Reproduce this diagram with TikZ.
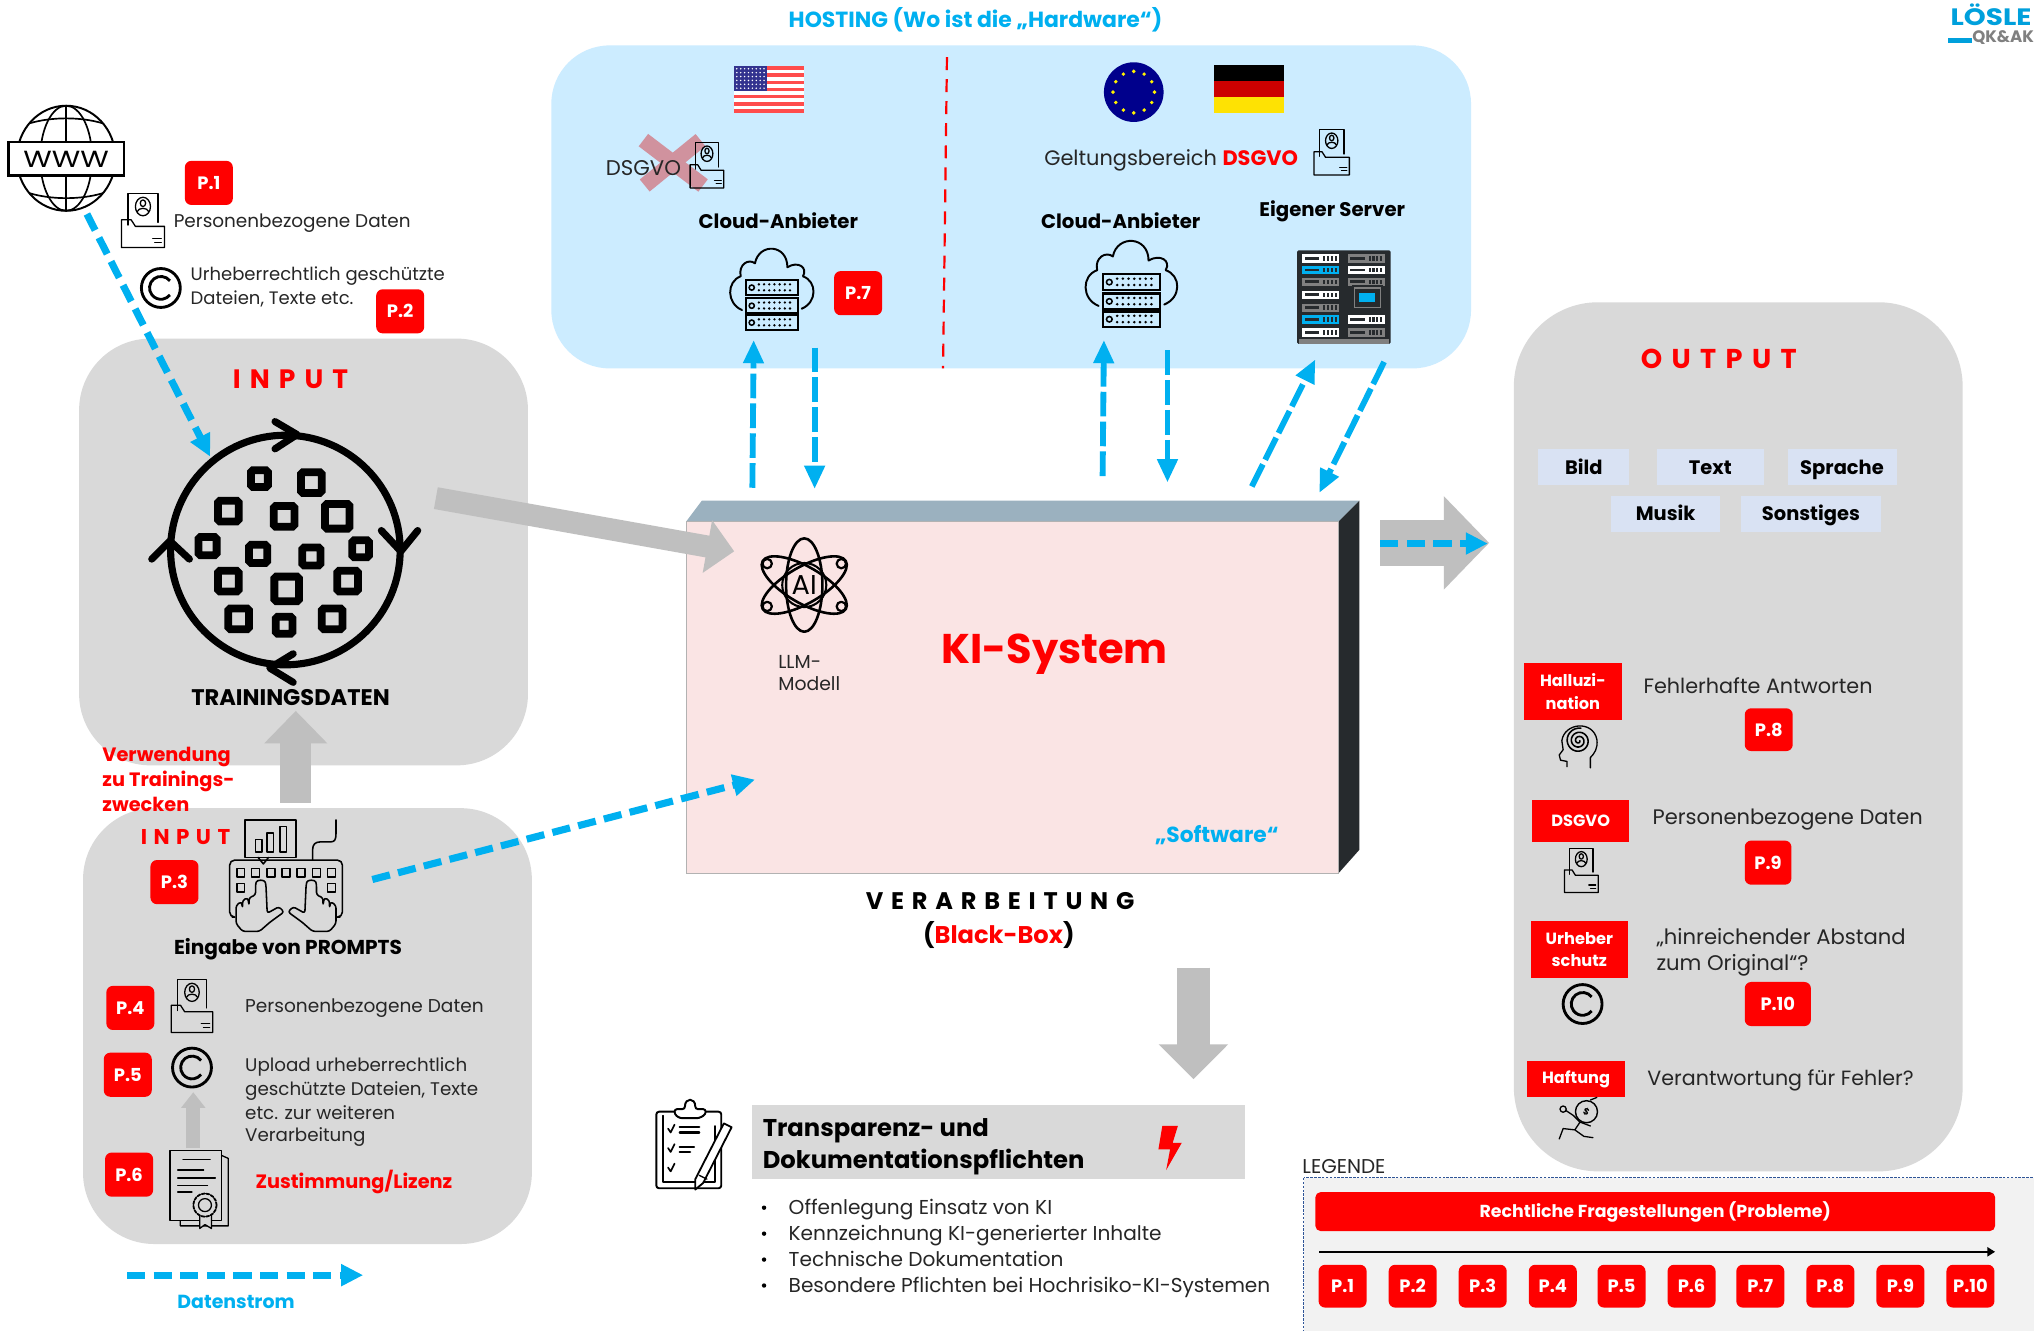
\documentclass[tikz,border=0pt]{standalone}
\usepackage{fontspec}
\setmainfont{Poppins}
\usetikzlibrary{arrows.meta,calc}
\definecolor{cyanA}{RGB}{0,176,240}
\definecolor{redA}{RGB}{255,0,0}
\definecolor{greyBox}{RGB}{217,217,217}
\definecolor{greyArrow}{RGB}{191,191,191}
\definecolor{blueBox}{RGB}{204,236,255}
\definecolor{pinkBox}{RGB}{250,228,228}
\definecolor{topFace}{RGB}{155,177,191}
\definecolor{sideFace}{RGB}{38,42,45}
\definecolor{tagBox}{RGB}{217,226,243}
\definecolor{legendBox}{RGB}{242,242,242}
\definecolor{legendLine}{RGB}{47,85,151}
\definecolor{ink}{RGB}{38,38,38}
\definecolor{logoBlue}{RGB}{0,160,220}
\newcommand{\fsz}[1]{\fontsize{#1}{#1}\selectfont}
\tikzset{
  x=1pt,y=-1pt,
  every node/.style={inner sep=0pt,outer sep=0pt,text=ink},
  fixedline/.style={text height=15pt,text depth=4pt},
  pbadge/.style={fill=redA,rounded corners=5pt,minimum width=37pt,minimum height=34pt,text=white,font=\fsz{13.8}\bfseries},
  tagbadge/.style={fill=redA,minimum width=75pt,text=white,align=center,font=\fsz{12.5}\bfseries},
  kindbox/.style={fill=tagBox,minimum height=28pt,text=black,fixedline,font=\fsz{15}\bfseries},
  body/.style={anchor=west,align=left,fixedline,font=\fsz{16}},
  heading/.style={text=black,fixedline,font=\fsz{15.2}\bfseries},
  spaced/.style={text=redA,font=\fsz{18}\bfseries},
  flow/.style={draw=cyanA,line width=5.5pt,dash pattern=on 14pt off 6.5pt,-{Triangle[length=17pt,width=16pt,fill=cyanA]}},
  flowthin/.style={draw=cyanA,line width=4.5pt,dash pattern=on 19pt off 4pt,-{Triangle[length=18pt,width=15pt,fill=cyanA]}},
  bulkflow/.style={draw=greyArrow,line width=#1},
  iconline/.style={draw=black,line width=1pt,line join=round,line cap=round},
  foldericon/.pic={
    \draw[iconline,fill=none] (6,24) -- (6,0) -- (34,0) -- (34,22);
    \draw[iconline] (20,10) circle (7);
    \draw[iconline] (20,7.5) circle (2.5);
    \draw[iconline] (14.5,14) .. controls (16,10.5) and (24,10.5) .. (25.5,14);
    \draw[iconline] (0,20) -- (9,20) -- (13,25) -- (40,25) -- (40,41) -- (0,41) -- cycle;
    \draw[iconline] (29,34) -- (37,34) (31,37) -- (37,37);
  },
  copyicon/.pic={
    \draw[draw=black,line width=2.2pt] (0,0) circle (15);
    \draw[draw=black,line width=2.2pt] (7,-5.5) arc[start angle=-38,end angle=-322,radius=8.8];
  },
  cloudicon/.pic={
    \draw[iconline,line width=1.5pt] (9,47) .. controls (-3,42) and (-3,25) .. (8,21) .. controls (6,12) and (14,7) .. (19,11) .. controls (22,-5) and (44,-4) .. (44,14) .. controls (52,9) and (60,14) .. (56,21) .. controls (67,25) and (67,41) .. (55,46);
    \foreach \yy in {24,38,51}{
      \draw[draw=black,fill=blueBox,line width=1.7pt] (12,\yy) rectangle (52,\yy+11.5);
      \draw[draw=black,line width=1.2pt] (16.5,\yy+5.7) circle (2);
      \foreach \xx in {22,26,30,34,38,42,46}{
        \fill[black] (\xx,\yy+3.2) circle (1);
        \fill[black] (\xx,\yy+7.8) circle (1);
      }
    }
  },
  rackicon/.pic={
    \fill[sideFace,rounded corners=1pt] (0,0) rectangle (72,72);
    \fill[gray] (1,68) rectangle (71,72);
    \foreach \yy/\col in {3/white,12/cyanA,21/gray,31/white,41/gray,50/cyanA,60/white}{
      \fill[\col] (4,\yy) rectangle (32,\yy+6.5);
      \foreach \xx in {16,19,22,25}{\fill[sideFace] (4+\xx,\yy+1.5) rectangle (4+\xx+1.6,\yy+5);}
      \fill[sideFace] (6,\yy+2.2) rectangle (17,\yy+4.2);
    }
    \foreach \yy/\col in {3/gray,12/white,21/gray,50/white,60/gray}{
      \fill[\col] (39,\yy) rectangle (68,\yy+6.5);
      \foreach \xx in {16,19,22,25}{\fill[sideFace] (39+\xx,\yy+1.5) rectangle (39+\xx+1.6,\yy+5);}
      \fill[sideFace] (41,\yy+2.2) rectangle (52,\yy+4.2);
    }
    \fill[sideFace] (42,27) rectangle (66,46);
    \draw[gray,line width=1pt] (44,29) rectangle (64,44);
    \fill[cyanA] (48,33) rectangle (60,40);
  },
  keyboardicon/.pic={
    \draw[iconline,line width=1.2pt] (12,0) rectangle (51,29);
    \draw[iconline,line width=1.2pt] (22,29) -- (26,34) -- (30,29);
    \foreach \xa/\ya in {20/15,29/10,39/5}{\draw[iconline,line width=1.2pt] (\xa,\ya) rectangle (\xa+5,25);}
    \draw[iconline,line width=1.2pt] (64,31) -- (64,23) .. controls (64,19) and (66,17) .. (70,17) -- (78,17) .. controls (81,17) and (82,15) .. (82,11) -- (82,0);
    \draw[iconline,line width=1.2pt,rounded corners=4pt] (2,75) -- (0,75) -- (0,31) -- (87,31) -- (87,75) -- (85,75);
    \foreach \xa in {8.5,20,32,43.5,55,67,78.5}{\draw[iconline,line width=1.2pt] (\xa-3,37.5) rectangle (\xa+3,44);}
    \foreach \xa in {8.5,78.5}{\draw[iconline,line width=1.2pt] (\xa-3,49) rectangle (\xa+3,55.5);}
    \foreach \ss/\oo in {1/0,-1/87}{
      \begin{scope}[xshift=\oo pt,xscale=\ss]
        \draw[iconline,fill=greyBox,line width=1.2pt,rounded corners=2pt] (5,80) -- (5,66) -- (9,63) -- (10,68) -- (10,62) -- (14,60) -- (15,66) -- (15,60) -- (20,58) -- (20,50) .. controls (21,46) and (27,46) .. (28,50) -- (29,72) -- (38,67) -- (42,71) -- (31,79) -- (23,86) -- (10,86) -- cycle;
      \end{scope}
    }
  },
  certicon/.pic={
    \draw[iconline] (36,2) -- (45,6) -- (45,58) -- (8,58) -- (8,54);
    \draw[iconline,fill=greyBox] (0,0) rectangle (40,54);
    \draw[iconline] (10,7) -- (31,7) (6,15) -- (26,15) (6,21) -- (35,21) (6,27) -- (29,27) (6,32) -- (17,32);
    \draw[iconline,fill=greyBox] (23,47) -- (23,60) -- (27,57) -- (32,60) -- (32,47);
    \draw[iconline,fill=greyBox,line width=1.4pt,dash pattern=on 2.4pt off 1.2pt] (27,42) circle (9);
    \draw[iconline,fill=greyBox] (27,42) circle (5);
  },
  aticon/.pic={
    \draw[iconline,line width=2pt] (0,0) ellipse (14 and 36);
    \draw[iconline,line width=2pt,rotate=60] (0,0) ellipse (14 and 37);
    \draw[iconline,line width=2pt,rotate=-60] (0,0) ellipse (14 and 37);
    \foreach \aa in {30,150,210,330}{\draw[iconline,fill=pinkBox,line width=1.7pt] (\aa:33) circle (3.6);}
    \draw[iconline,line width=1.6pt] (0,0) circle (17);
  },
  headicon/.pic={
    \draw[iconline] (-8,16) -- (-8,12) -- (-13,11) -- (-14,7) -- (-11,3) -- (-12,-4) .. controls (-10,-18) and (12,-20) .. (15,-5) .. controls (16,2) and (13,6) .. (10,9) -- (10,17);
    \draw[iconline,line width=1.2pt,domain=0:1000,samples=70,smooth] plot ({(.8+\x/1000*9)*cos(\x)+1},{(.8+\x/1000*9)*sin(\x)-4});
  },
  haftungicon/.pic={
    \draw[iconline,line width=1.1pt,fill=greyBox] (6,-7) circle (8.5);
    \draw[iconline] (-4,-4) -- (1,1) -- (-3,7) -- (-12,6) -- (-15,14) (-3,7) -- (4,12) -- (11,13) (1,1) -- (9,4) (-4,-4) -- (-10,-8) (9,-16) -- (14,-18);
    \draw[iconline] (-12,-9) circle (2.4);
    \node[font=\fsz{7}\bfseries,text=black,rotate=-25] at (6,-7) {\$};
  },
  clipicon/.pic={
    \draw[iconline,line width=1.5pt,rounded corners=2pt] (0,9) rectangle (50,68);
    \draw[iconline,line width=1.2pt] (5,12) -- (5,63) -- (45,63) -- (45,20);
    \draw[iconline,line width=1.5pt,fill=white,rounded corners=2pt] (14,11) -- (14,7) -- (22,7) .. controls (22,-2) and (30,-2) .. (30,7) -- (38,7) -- (38,11) -- (33,14) -- (18,14) -- cycle;
    \foreach \yy in {22,37,52}{\draw[iconline,line width=1.3pt] (9,\yy) -- (11,\yy+3) -- (14,\yy-3);}
    \draw[iconline,line width=1.8pt] (18,21) -- (33,21) (18,25) -- (33,25) (18,36) -- (29,36) (18,40) -- (26,40);
    \draw[iconline,fill=white,line width=1.4pt] (52,18) -- (58,21) -- (36,64) -- (30,69) -- (30,61) -- cycle;
    \draw[iconline,line width=1pt] (33,58) -- (39,61);
  },
}
\begin{document}
\begin{tikzpicture}
\useasboundingbox (0,0) rectangle (1568,1025.3);
\fill[white] (0,0) rectangle (1568,1025.3);

% ---------- panels ----------
\fill[blueBox,rounded corners=45pt] (425,35) rectangle (1134,284);
\fill[greyBox,rounded corners=55pt] (61,261) rectangle (407,590);
\fill[greyBox,rounded corners=55pt] (64,623) rectangle (410,959);
\fill[greyBox,rounded corners=65pt] (1167,233) rectangle (1513,903);

% ---------- logo ----------
\node[text=logoBlue,font=\fsz{21.5}\bfseries,anchor=base east] (logoA) at (1566,19.5) {\scalebox{1}[.85]{LÖSLE}};
\node[text=gray,font=\fsz{12.8}\bfseries,anchor=base east] (logoB) at (1568,33) {QK\&AK};
\fill[logoBlue] (1502,29) rectangle (1520,33);

% ---------- hosting ----------
\node[text=cyanA,font=\fsz{16.9}\bfseries] (hosting) at (752,15) {HOSTING (Wo ist die „Hardware“)};
\coordinate (divA) at (730,44); \coordinate (divB) at (727,284);
\draw[redA,line width=1.7pt,dash pattern=on 10pt off 7pt] (divA) -- (divB);

% US flag
\fill[white] (566,51) rectangle (620,87);
\foreach \k in {0,2,...,12}{\fill[red!70!white] (566,51+\k*2.77) rectangle (620,51+\k*2.77+2.77);}
\fill[blue!45!black!80!white] (566,51) rectangle (591,70.5);
\foreach \i in {0,...,7}{\foreach \j in {0,...,5}{\fill[white] (568+\i*3,53+\j*3) circle (.65);}}
% EU flag
\fill[blue!55!black] (874,71) circle (23);
\foreach \a in {0,30,...,330}{\fill[yellow] ($(874,71)+(\a:16)$) circle (1.5);}
% German flag
\fill[black] (936,50) rectangle (990,62.5);
\fill[red!80!black] (936,62.5) rectangle (990,75);
\fill[yellow!85!orange] (936,75) rectangle (990,87);

% left: no DSGVO
\draw[red!85!black,opacity=.38,line width=12pt] (496,108) -- (542,143) (540,108) -- (497,143);
\node[body,font=\fsz{16.4}] (dsgvoUS) at (467,130) {DSGVO};
\pic[xscale=.65,yscale=.85] at (532,110) {foldericon};
\node[heading] (cloudUS) at (600,171) {Cloud-Anbieter};
\pic at (563,192) {cloudicon};
\node[pbadge] (p7) at (661.5,226) {P.7};
\node[body,font=\fsz{16.1}] (geltung) at (805,122) {Geltungsbereich \textcolor{redA}{\bfseries DSGVO}};
\pic[xscale=.68,yscale=.85] at (1013,100) {foldericon};
\node[heading] (cloudEU) at (864,171) {Cloud-Anbieter};
\pic[xscale=1.1,yscale=1.06] at (837,186) {cloudicon};
\node[heading] (ownServer) at (1027,161.5) {Eigener Server};
\pic at (1000,193) {rackicon};

% ---------- input 1 ----------
\coordinate (globeC) at (51,122);
\draw[black,line width=1.5pt] (globeC) ellipse (38 and 40.5);
\draw[black,line width=1.3pt] (globeC) ellipse (20 and 40.5);
\draw[black,line width=1.3pt] (51,81.5) -- (51,162.5);
\draw[black,line width=1.3pt] (23,95) .. controls (40,90) and (62,90) .. (79,95);
\draw[black,line width=1.3pt] (23,149) .. controls (40,154) and (62,154) .. (79,149);
\node[draw=black,fill=white,line width=2pt,minimum width=89pt,minimum height=26pt,text=black,font=\fsz{18}] (www) at (51,122.5) {\scalebox{1.25}[1]{WWW}};
\pic[xscale=.83,yscale=1.02] at (93.6,149) {foldericon};
\node[pbadge] (p1) at (161,141) {P.1};
\node[body,font=\fsz{14.2}] (pd1) at (134,170) {Personenbezogene Daten};
\pic at (124,222) {copyicon};
\node[anchor=west,align=left,font=\fsz{13.9}] (ur1) at (147,221) {Urheberrechtlich geschützte\\[3pt]Dateien, Texte etc.};
\node[pbadge] (p2) at (308.5,240) {P.2};

\node[spaced,font=\fsz{20.5}\bfseries] (inA) at (224,292) {I\hspace{7pt}N\hspace{7pt}P\hspace{7pt}U\hspace{7pt}T};

% training data circle
\coordinate (trainC) at (220,424);
\draw[black,line width=5.5pt] (trainC) circle (88.5);
\draw[black,line width=5.5pt,line cap=round,line join=round] (212,325) -- (229,335) -- (212,346);
\draw[black,line width=5.5pt,line cap=round,line join=round] (294,409) -- (309,425) -- (322,409);
\draw[black,line width=5.5pt,line cap=round,line join=round] (226,504) -- (208,515) -- (226,526);
\draw[black,line width=5.5pt,line cap=round,line join=round] (117,431) -- (131,417) -- (146,431);
\foreach \cx/\cy/\sz in {200/369/13,240/372/16,176/394/16,219/398/16,260/398/19,160/421/14,199/427/14,240/429/14,278/423/13,176/448/16,221/454/19,268/448/16,184/477/16,219/482/13,256/477/16}{
  \draw[black,line width=6pt,rounded corners=1.5pt] (\cx-\sz/2,\cy-\sz/2) rectangle (\cx+\sz/2,\cy+\sz/2);
}
\node[text=black,fixedline,font=\fsz{17.4}\bfseries] (train) at (224,538.5) {TRAININGSDATEN};

% ---------- bulk arrows ----------
\coordinate (upA) at (228,619); \coordinate (upB) at (228,548);
\draw[bulkflow=24pt,-{Triangle[length=25pt,width=47pt,fill=greyArrow]}] (upA) -- (upB);

\node[anchor=north west,align=left,text=redA,font=\fsz{14.9}\bfseries] (verw) at (79,576) {Verwendung\\[2.6pt]zu Trainings-\\[2.6pt]zwecken};

% ---------- input 2 ----------
\node[spaced,font=\fsz{16.5}\bfseries] (inB) at (143,645) {I\hspace{5pt}N\hspace{5pt}P\hspace{5pt}U\hspace{5pt}T};
\node[pbadge] (p3) at (134.5,680) {P.3};
\pic at (177,632) {keyboardicon};
\node[text=black,fixedline,font=\fsz{15.5}\bfseries] (prompts) at (222,730) {Eingabe von PROMPTS};
\node[pbadge] (p4) at (100.5,777) {P.4};
\pic[xscale=.8,yscale=1] at (132,755) {foldericon};
\node[body,font=\fsz{14.3}] (pd2) at (189,775) {Personenbezogene Daten};
\node[pbadge] (p5) at (98.5,828.5) {P.5};
\pic at (148,823) {copyicon};
\coordinate (licA) at (149,885); \coordinate (licB) at (149,842);
\draw[bulkflow=11pt,-{Triangle[length=12pt,width=18pt,fill=greyArrow]}] (licA) -- (licB);
\node[anchor=north west,align=left,font=\fsz{14.1}] (upl) at (189,815.5) {Upload urheberrechtlich\\[2.9pt]geschützte Dateien, Texte\\[2.9pt]etc. zur weiteren\\[2.9pt]Verarbeitung};
\node[pbadge] (p6) at (99.5,905.5) {P.6};
\pic at (131,887) {certicon};
\node[anchor=west,text=redA,fixedline,font=\fsz{14.9}\bfseries] (lic) at (197,910.5) {Zustimmung/Lizenz};

\coordinate (legA) at (98,983); \coordinate (legB) at (280,983);
\draw[flow] (legA) -- (legB);
\node[text=cyanA,fixedline,font=\fsz{14.6}\bfseries] (dstrom) at (182,1003) {Datenstrom};

% ---------- KI box ----------
\fill[topFace] (529,402) -- (541,386) -- (1048,386) -- (1032,402) -- cycle;
\fill[sideFace] (1032,402) -- (1048,386) -- (1048,655) -- (1032,673) -- cycle;
\draw[gray!60,fill=pinkBox,line width=.8pt] (529,402) rectangle (1032,673);
\pic at (620,451) {aticon};
\node[text=black,font=\fsz{21}] (ai) at (620,451) {AI};
\node[anchor=north west,align=left,font=\fsz{14.5}] (llm) at (600,505) {LLM-\\[2.5pt]Modell};
\node[text=redA,font=\fsz{32}\bfseries] (ki) at (813,504) {KI-System};
\node[text=cyanA,font=\fsz{16.8}\bfseries] (soft) at (938,644) {„Software“};
\node[text=black,font=\fsz{18.5}\bfseries] (verarb) at (771,695) {V\hspace{6pt}E\hspace{6pt}R\hspace{6pt}A\hspace{6pt}R\hspace{6pt}B\hspace{6pt}E\hspace{6pt}I\hspace{6pt}T\hspace{6pt}U\hspace{6pt}N\hspace{6pt}G};
\node[text=black,font=\fsz{18.6}\bfseries] (bb) at (770,721) {(\textcolor{redA}{Black-Box})};

% grey and data arrows
\coordinate (trainOut) at (336,384); \coordinate (kiIn) at (566,425);
\draw[bulkflow=17pt,-{Triangle[length=21pt,width=40pt,fill=greyArrow]}] (trainOut) -- (kiIn);
\coordinate (kiOut) at (1064,418.5); \coordinate (outIn) at (1148,418.5);
\draw[bulkflow=35pt,-{Triangle[length=35pt,width=70pt,fill=greyArrow]}] (kiOut) -- (outIn);
\coordinate (kiDown) at (920,746); \coordinate (pflicht) at (920,832);
\draw[bulkflow=26pt,-{Triangle[length=27pt,width=52pt,fill=greyArrow]}] (kiDown) -- (pflicht);

\coordinate (wwwOut) at (67,165); \coordinate (trainIn) at (162,352);
\draw[flow] (wwwOut) -- (trainIn);
\coordinate (promptOut) at (287,678); \coordinate (kiPrompt) at (582,601);
\draw[flow] (promptOut) -- (kiPrompt);
\coordinate (flowA) at (1064,419); \coordinate (flowB) at (1147,419);
\draw[flow] (flowA) -- (flowB);
\coordinate (h1a) at (580,376); \coordinate (h1b) at (581,262);
\draw[flowthin] (h1a) -- (h1b);
\coordinate (h2a) at (628,268); \coordinate (h2b) at (628,377);
\draw[flowthin] (h2a) -- (h2b);
\coordinate (h3a) at (850,367); \coordinate (h3b) at (851,262);
\draw[flowthin] (h3a) -- (h3b);
\coordinate (h4a) at (900,270); \coordinate (h4b) at (900,372);
\draw[flowthin] (h4a) -- (h4b);
\coordinate (h5a) at (965,375); \coordinate (h5b) at (1014,277);
\draw[flowthin] (h5a) -- (h5b);
\coordinate (h6a) at (1067,279); \coordinate (h6b) at (1017,380);
\draw[flowthin] (h6a) -- (h6b);

% ---------- output ----------
\node[spaced,font=\fsz{21}\bfseries] (outT) at (1325,277) {O\hspace{7.2pt}U\hspace{7.2pt}T\hspace{7.2pt}P\hspace{7.2pt}U\hspace{7.2pt}T};
\node[kindbox,minimum width=70pt] (kb) at (1221,360) {Bild};
\node[kindbox,minimum width=83pt] (kt) at (1318.5,360) {Text};
\node[kindbox,minimum width=84pt] (ks) at (1420,360) {Sprache};
\node[kindbox,minimum width=84pt] (km) at (1284,396) {Musik};
\node[kindbox,minimum width=108pt] (kso) at (1396,396) {Sonstiges};

\node[tagbadge,minimum height=44pt] (tagH) at (1212.5,533) {Halluzi-\\[5pt]nation};
\pic at (1216,575) {headicon};
\node[body] (rH) at (1267,529) {Fehlerhafte Antworten};
\node[pbadge,minimum height=33pt] (p8) at (1363.5,562.5) {P.8};

\node[tagbadge,minimum height=32pt] (tagD) at (1218.5,633) {\raisebox{-1pt}{DSGVO}};
\pic[xscale=.65,yscale=.83] at (1206,654) {foldericon};
\node[body,font=\fsz{16.2}] (rD) at (1274,630) {Personenbezogene Daten};
\node[pbadge,minimum width=36pt] (p9) at (1363,665) {P.9};

\node[tagbadge,minimum height=44pt] (tagU) at (1217.5,732) {Urheber\\[4.5pt]schutz};
\pic at (1220,774) {copyicon};
\node[anchor=north west,align=left,font=\fsz{16.3}] (rU) at (1277,716) {„hinreichender Abstand\\[3.7pt]zum Original“?};
\node[pbadge,minimum width=51pt] (p10) at (1370.5,774) {P.10};

\node[tagbadge,minimum height=28pt] (tagF) at (1215,832) {\raisebox{-1.5pt}{Haftung}};
\pic at (1217,864) {haftungicon};
\node[body,font=\fsz{15.9}] (rF) at (1270,831) {Verantwortung für Fehler?};

% ---------- transparency ----------
\pic at (506,848) {clipicon};
\fill[greyBox] (580,852) rectangle (960,909);
\node[anchor=west,align=left,text=black,font=\fsz{18.7}\bfseries] (tr) at (588,884) {Transparenz- und\\[4.3pt]Dokumentationspflichten};
\fill[redA] (896,868) -- (908,868) -- (904,881) -- (911,881) -- (899,902) -- (902,886) -- (893,886) -- cycle;
\foreach \yy/\tt [count=\n] in {931/Offenlegung Einsatz von KI,951/Kennzeichnung KI-generierter Inhalte,971/Technische Dokumentation,991/Besondere Pflichten bei Hochrisiko-KI-Systemen}{
  \fill[black] (589,\yy) circle (1.7);
  \node[body,font=\fsz{15.5}] (bul\n) at (608,\yy) {\tt};
}

% ---------- legend ----------
\node[anchor=west,font=\fsz{15.4}] (legT) at (1004,899) {LEGENDE};
\draw[draw=legendLine,fill=legendBox,line width=.7pt,dash pattern=on 2pt off 1pt] (1005,908) rectangle (1572,1030);
\node[fill=redA,rounded corners=4pt,minimum width=524pt,minimum height=30pt,text=white,font=\fsz{13.4}\bfseries] (legBar) at (1276,934) {\raisebox{-1.5pt}{Rechtliche Fragestellungen (Probleme)}};
\coordinate (legL) at (1017,965); \coordinate (legR) at (1538,965);
\draw[black,line width=1.6pt,-{Triangle[length=6pt,width=7pt]}] (legL) -- (legR);
\foreach \cx/\lab [count=\n] in {1035/P.1,1089/P.2,1143/P.3,1197/P.4,1250/P.5,1304/P.6,1357/P.7,1411/P.8,1465/P.9,1519/P.10}{
  \node[pbadge,minimum height=33pt] (lp\n) at (\cx,991.5) {\lab};
}
\end{tikzpicture}
\end{document}
